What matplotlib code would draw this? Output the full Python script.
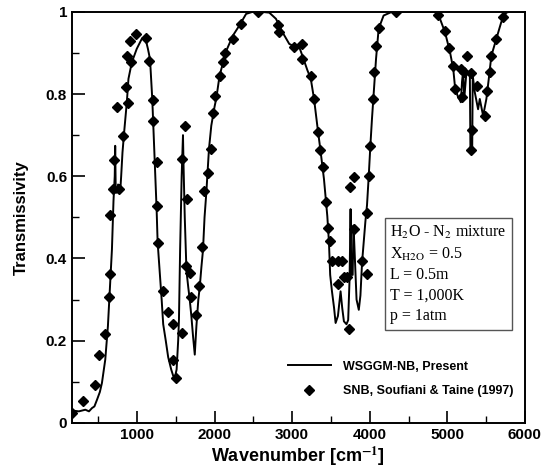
import numpy as np
import matplotlib
matplotlib.use('Agg')
import matplotlib.pyplot as plt
from matplotlib.ticker import MultipleLocator

# WSGGM-NB line (wavenumber, transmissivity)
line_wn = [160, 250, 333, 380, 419, 450, 483, 520, 547, 590, 624, 654, 676, 696,
           712, 718, 725, 740, 755, 769, 782, 795, 812, 837, 868, 889, 932, 996,
           1060, 1103, 1140, 1167, 1196, 1209, 1231, 1252, 1265, 1295, 1317, 1337,
           1370, 1401, 1440, 1465, 1487, 1510, 1530, 1540, 1555, 1575, 1592, 1600,
           1615, 1637, 1660, 1679, 1700, 1722, 1744, 1765, 1790, 1808, 1830, 1850,
           1870, 1893, 1927, 1957, 2000, 2022, 2064, 2100, 2150, 2235, 2320, 2406,
           2490, 2600, 2705, 2791, 2876, 2962, 3047, 3090, 3132, 3196, 3240, 3282,
           3324, 3368, 3410, 3453, 3474, 3490, 3513, 3540, 3560, 3590, 3624, 3645,
           3667, 3700, 3722, 3740, 3753, 3762, 3780, 3790, 3800, 3830, 3859, 3880,
           3901, 3944, 3965, 3987, 4008, 4029, 4051, 4081, 4115, 4179, 4286, 4842,
           4906, 4971, 5035, 5077, 5098, 5132, 5175, 5190, 5205, 5218, 5247, 5291,
           5298, 5321, 5328, 5355, 5397, 5419, 5462, 5504, 5535, 5568, 5632, 5696,
           5760, 5800, 6000]
line_t = [0.03, 0.028, 0.032, 0.028, 0.036, 0.04, 0.056, 0.075, 0.097, 0.154, 0.235,
          0.341, 0.422, 0.54, 0.60, 0.674, 0.56, 0.56, 0.58, 0.57, 0.56, 0.60, 0.658,
          0.715, 0.78, 0.837, 0.877, 0.91, 0.934, 0.939, 0.91, 0.885, 0.788, 0.723,
          0.62, 0.52, 0.44, 0.36, 0.30, 0.24, 0.20, 0.16, 0.13, 0.115, 0.11, 0.13,
          0.20, 0.25, 0.42, 0.60, 0.70, 0.62, 0.50, 0.37, 0.33, 0.30, 0.26, 0.21,
          0.166, 0.235, 0.30, 0.33, 0.38, 0.42, 0.50, 0.56, 0.666, 0.723, 0.77,
          0.79, 0.845, 0.87, 0.905, 0.942, 0.967, 0.995, 1.0, 1.0, 0.998, 0.983,
          0.95, 0.922, 0.914, 0.915, 0.893, 0.858, 0.837, 0.788, 0.723, 0.658,
          0.593, 0.503, 0.44, 0.36, 0.32, 0.28, 0.243, 0.26, 0.32, 0.28, 0.247,
          0.24, 0.25, 0.35, 0.52, 0.36, 0.36, 0.48, 0.44, 0.30, 0.275, 0.31, 0.39,
          0.49, 0.53, 0.60, 0.674, 0.74, 0.80, 0.885, 0.959, 0.991, 1.0, 1.0,
          0.983, 0.95, 0.902, 0.861, 0.82, 0.796, 0.78, 0.83, 0.857, 0.788, 0.853,
          0.849, 0.67, 0.658, 0.845, 0.804, 0.763, 0.788, 0.747, 0.788, 0.837,
          0.893, 0.934, 0.975, 0.998, 1.0, 1.0]

# SNB points, Soufiani & Taine (1997)
snb_wn = [163, 304, 453, 504, 590, 641, 645, 654, 696, 709, 747, 773, 824, 855, 868,
          889, 910, 923, 983, 1111, 1154, 1201, 1209, 1252, 1252, 1273, 1337, 1401,
          1465, 1465, 1500, 1573, 1573, 1615, 1637, 1645, 1679, 1701, 1765, 1799,
          1842, 1859, 1914, 1957, 1978, 2008, 2064, 2107, 2128, 2235, 2342, 2555,
          2812, 2833, 3026, 3124, 3132, 3240, 3282, 3333, 3355, 3401, 3440, 3465,
          3494, 3517, 3594, 3637, 3594, 3667, 3701, 3731, 3744, 3795, 3795, 3894,
          3965, 3965, 3987, 4008, 4038, 4051, 4081, 4115, 4342, 4885, 4971, 5021,
          5077, 5098, 5175, 5184, 5218, 5260, 5304, 5312, 5321, 5385, 5483, 5513,
          5556, 5568, 5632, 5718]
snb_t = [0.025, 0.054, 0.091, 0.164, 0.216, 0.306, 0.363, 0.505, 0.568, 0.639,
         0.768, 0.568, 0.698, 0.818, 0.892, 0.778, 0.928, 0.877, 0.945, 0.937,
         0.88, 0.785, 0.735, 0.635, 0.528, 0.438, 0.32, 0.269, 0.241, 0.154, 0.109,
         0.219, 0.643, 0.723, 0.381, 0.544, 0.365, 0.306, 0.263, 0.332, 0.428,
         0.563, 0.607, 0.666, 0.754, 0.796, 0.845, 0.877, 0.90, 0.934, 0.971, 1.0,
         0.968, 0.95, 0.915, 0.922, 0.885, 0.845, 0.788, 0.707, 0.663, 0.623,
         0.537, 0.475, 0.442, 0.393, 0.393, 0.393, 0.338, 0.355, 0.355, 0.229,
         0.574, 0.597, 0.471, 0.393, 0.363, 0.511, 0.601, 0.674, 0.788, 0.853,
         0.918, 0.96, 1.0, 0.993, 0.953, 0.911, 0.869, 0.812, 0.861, 0.793, 0.854,
         0.893, 0.663, 0.851, 0.712, 0.82, 0.747, 0.808, 0.853, 0.893, 0.934, 0.987]

info_lines = ['H$_2$O - N$_2$ mixture', 'X$_{\\rm H2O}$ = 0.5', 'L = 0.5m',
              'T = 1,000K', 'p = 1atm']

plt.rcParams['font.family'] = ['Liberation Sans', 'DejaVu Sans']
plt.rcParams['mathtext.fontset'] = 'stix'

fig = plt.figure(figsize=(5.49, 4.73), dpi=100)
ax = fig.add_axes([0.131, 0.106, 0.825, 0.869])

ax.plot(line_wn, line_t, color='black', lw=1.4, label='WSGGM-NB, Present')
ax.plot(snb_wn, snb_t, 'D', color='black', ms=5, ls='none',
        label='SNB, Soufiani & Taine (1997)')

ax.set_xlim(160, 6000)
ax.set_ylim(0, 1)
ax.xaxis.set_major_locator(MultipleLocator(1000))
ax.xaxis.set_minor_locator(MultipleLocator(500))
ax.yaxis.set_major_locator(MultipleLocator(0.2))
ax.yaxis.set_minor_locator(MultipleLocator(0.1))
ax.set_yticks([0, 0.2, 0.4, 0.6, 0.8, 1.0])
ax.set_yticklabels(['0', '0.2', '0.4', '0.6', '0.8', '1'])
ax.tick_params(which='major', direction='in', length=9, width=1.2, labelsize=11)
ax.tick_params(which='minor', direction='in', length=5, width=1)
for lab in ax.get_xticklabels() + ax.get_yticklabels():
    lab.set_fontweight('bold')
for sp in ax.spines.values():
    sp.set_linewidth(1.4)

ax.set_xlabel('Wavenumber [cm$^{\\mathbf{-1}}$]', fontsize=13, fontweight='bold',
              labelpad=2)
ax.set_ylabel('Transmissivity', fontsize=12, fontweight='bold', labelpad=12)

leg = ax.legend(loc='lower right', bbox_to_anchor=(1.0, 0.035), frameon=False,
                handlelength=3.4, handletextpad=1.0, labelspacing=1.0,
                prop={'weight': 'bold', 'size': 9})

ax.text(0.703, 0.485, '\n'.join(info_lines), transform=ax.transAxes,
        family=['Liberation Serif', 'DejaVu Serif'], fontsize=11.5, va='top',
        ha='left', linespacing=1.38,
        bbox=dict(boxstyle='square,pad=0.35', fc='white', ec='#555555', lw=1))

fig.savefig('out.png', dpi=100)
